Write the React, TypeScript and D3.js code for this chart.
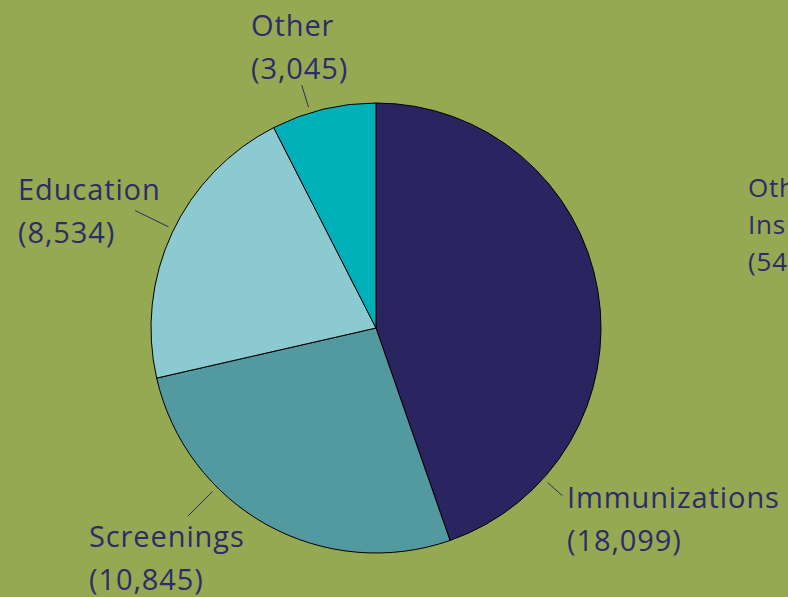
import React, { useEffect, useRef } from "react";
import * as d3 from "d3";

// services by category
const categories = ["Immunizations", "Screenings", "Education", "Other"];
const values = [18099, 10845, 8534, 3045];
const sliceColors = ["#2a2560", "#529aa0", "#8bcad0", "#00b0b8"];

// label placement (x, baselines) and leader angle in degrees clockwise from 12 o'clock
const labelX = [567, 89, 18, 251];
const labelY = [508, 547, 200, 36];
const leaderAngle = [132, 225, 296, 343];
const leaderOuter = [251, 266, 268, 254];

// cropped label of the neighbouring chart
const cutLabel = ["Other", "Insurance", "(54,…)"];

const W = 788;
const H = 597;
const textColor = "#2e2b6a";

const App = () => {
  const ref = useRef<SVGSVGElement>(null);

  useEffect(() => {
    const svg = d3.select(ref.current);
    svg.selectAll("*").remove();

    svg.append("rect").attr("width", W).attr("height", H).attr("fill", "#94a951");

    const cx = 376;
    const cy = 328;
    const r = 225;
    const g = svg.append("g").attr("transform", `translate(${cx},${cy})`);

    const pie = d3.pie<number>().sort(null).value((d) => d);
    const arcs = pie(values);
    const arc = d3.arc<d3.PieArcDatum<number>>().innerRadius(0).outerRadius(r);

    g.selectAll("path.slice")
      .data(arcs)
      .join("path")
      .attr("class", "slice")
      .attr("d", arc)
      .attr("fill", (d, i) => sliceColors[i])
      .attr("stroke", "#000")
      .attr("stroke-width", 1);

    // leader lines
    g.selectAll("line.leader")
      .data(categories)
      .join("line")
      .attr("class", "leader")
      .each(function (d, i) {
        const a = (leaderAngle[i] * Math.PI) / 180;
        d3.select(this)
          .attr("x1", Math.sin(a) * (r + 6))
          .attr("y1", -Math.cos(a) * (r + 6))
          .attr("x2", Math.sin(a) * leaderOuter[i])
          .attr("y2", -Math.cos(a) * leaderOuter[i]);
      })
      .attr("stroke", textColor)
      .attr("stroke-width", 1);

    const fmt = d3.format(",");
    const labels = svg
      .selectAll("text.label")
      .data(categories)
      .join("text")
      .attr("class", "label")
      .attr("font-family", "'Open Sans', sans-serif")
      .attr("font-size", 29)
      .attr("letter-spacing", 0.9)
      .attr("fill", textColor);
    labels
      .append("tspan")
      .attr("x", (d, i) => labelX[i])
      .attr("y", (d, i) => labelY[i])
      .text((d) => d);
    labels
      .append("tspan")
      .attr("x", (d, i) => labelX[i])
      .attr("y", (d, i) => labelY[i] + 43)
      .text((d, i) => `(${fmt(values[i])})`);

    svg
      .append("text")
      .attr("font-family", "'Open Sans', sans-serif")
      .attr("font-size", 26)
      .attr("letter-spacing", 0.8)
      .attr("fill", textColor)
      .selectAll("tspan")
      .data(cutLabel)
      .join("tspan")
      .attr("x", 748)
      .attr("y", (d, i) => 197 + i * 37)
      .text((d) => d);
  }, []);

  return (
    <svg
      ref={ref}
      width={W}
      height={H}
      style={{ display: "block", position: "absolute", left: 0, top: 0 }}
    />
  );
};

export default App;
